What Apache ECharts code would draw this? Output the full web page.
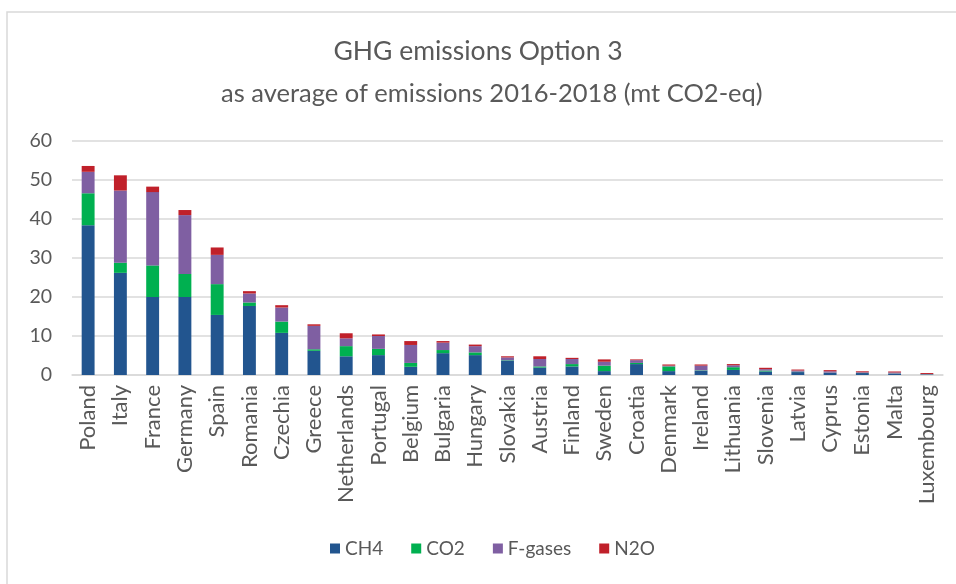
<!DOCTYPE html>
<html>
<head>
<meta charset="utf-8">
<title>GHG emissions Option 3</title>
<script src="https://cdn.jsdelivr.net/npm/echarts@6/dist/echarts.min.js"></script>
<style>
  html, body { margin: 0; padding: 0; background: #fff; }
  #chart { width: 956px; height: 584px; }
</style>
</head>
<body>
<div id="chart"></div>
<script>
// countries, sorted by total as in the source chart
const countries = [
  "Poland", "Italy", "France", "Germany", "Spain", "Romania", "Czechia",
  "Greece", "Netherlands", "Portugal", "Belgium", "Bulgaria", "Hungary",
  "Slovakia", "Austria", "Finland", "Sweden", "Croatia", "Denmark",
  "Ireland", "Lithuania", "Slovenia", "Latvia", "Cyprus", "Estonia",
  "Malta", "Luxembourg"
];
// values in mt CO2-eq
const ch4 = [38.4, 26.2, 20.0, 20.0, 15.4, 17.7, 10.8, 6.2, 4.8, 5.1, 2.1, 5.6, 5.1,
  3.7, 1.9, 2.2, 1.0, 2.8, 1.0, 1.1, 1.3, 0.9, 0.75, 0.55, 0.5, 0.35, 0.1];
const co2 = [8.2, 2.6, 8.1, 5.9, 7.9, 0.9, 2.9, 0.4, 2.6, 1.6, 1.0, 0.8, 0.7,
  0.1, 0.3, 0.6, 1.4, 0.3, 1.2, 0.1, 0.7, 0.25, 0.1, 0.05, 0.05, 0.05, 0.05];
const fgases = [5.5, 18.5, 18.8, 15.1, 7.5, 2.3, 3.6, 6.0, 2.0, 3.3, 4.6, 1.9, 1.6,
  0.7, 1.9, 1.3, 1.0, 0.7, 0.2, 1.2, 0.5, 0.35, 0.3, 0.35, 0.15, 0.25, 0.1];
const n2o = [1.5, 3.9, 1.4, 1.3, 1.9, 0.6, 0.6, 0.4, 1.3, 0.4, 1.0, 0.4, 0.4,
  0.3, 0.7, 0.3, 0.6, 0.2, 0.3, 0.3, 0.3, 0.35, 0.25, 0.3, 0.25, 0.25, 0.25];
const yTicks = [0, 10, 20, 30, 40, 50, 60];

const textColor = "#595959";
const gridColor = "#d9d9d9";
const fontFamily = "Lato, 'Open Sans', sans-serif";

const chart = echarts.init(document.getElementById("chart"), null, { renderer: "canvas" });

function bar(name, data, color) {
  return {
    name: name,
    type: "bar",
    stack: "total",
    barWidth: "40%",
    data: data,
    itemStyle: { color: color },
  };
}

const option = {
  backgroundColor: "#fff",
  animation: false,
  textStyle: { fontFamily: fontFamily },
  // thin frame of the original chart area
  graphic: [
    {
      type: "rect",
      shape: { x: 7, y: 12, width: 1000, height: 1000 },
      style: { fill: "none", stroke: gridColor, lineWidth: 1.5 },
      silent: true,
    },
  ],
  title: [
    {
      text: "GHG emissions Option 3",
      left: "center",
      top: 33,
      textStyle: { fontSize: 26.5, fontWeight: "normal", color: textColor, fontFamily: fontFamily },
    },
    {
      text: "as average of emissions 2016-2018 (mt CO2-eq)",
      left: 216,
      top: 76,
      textStyle: { fontSize: 25.5, fontWeight: "normal", color: textColor, fontFamily: fontFamily },
    },
  ],
  legend: {
    bottom: 21,
    left: 325,
    icon: "rect",
    itemWidth: 10,
    itemHeight: 10,
    itemGap: 28,
    textStyle: { fontSize: 19, color: textColor, fontFamily: fontFamily },
    data: ["CH4", "CO2", "F-gases", "N2O"],
  },
  grid: { left: 72, right: 13, top: 141, bottom: 209, containLabel: false },
  xAxis: {
    type: "category",
    data: countries,
    axisTick: { show: false },
    axisLine: { lineStyle: { color: gridColor, width: 1.5 } },
    axisLabel: {
      interval: 0,
      rotate: 90,
      margin: 10,
      fontSize: 22,
      color: textColor,
      fontFamily: fontFamily,
    },
  },
  yAxis: {
    type: "value",
    min: yTicks[0],
    max: yTicks[yTicks.length - 1],
    interval: yTicks[1] - yTicks[0],
    axisLine: { show: false },
    axisTick: { show: false },
    splitLine: { lineStyle: { color: gridColor, width: 1.5 } },
    axisLabel: { fontSize: 19.5, color: textColor, margin: 20, fontFamily: fontFamily },
  },
  series: [
    bar("CH4", ch4, "#22558f"),
    bar("CO2", co2, "#00b050"),
    bar("F-gases", fgases, "#7f5fa2"),
    bar("N2O", n2o, "#c0202a"),
  ],
};

chart.setOption(option);
</script>
</body>
</html>
